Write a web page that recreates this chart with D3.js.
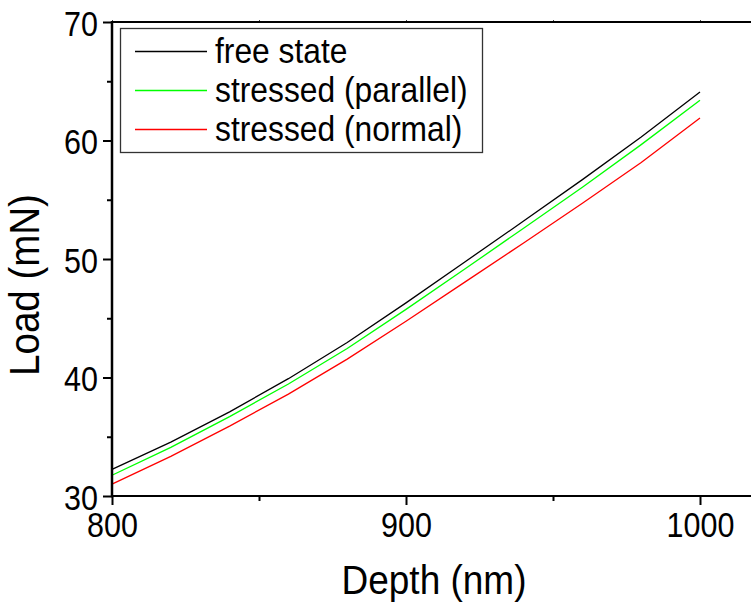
<!DOCTYPE html>
<html>
<head>
<meta charset="utf-8">
<script src="https://cdn.jsdelivr.net/npm/d3@7/dist/d3.min.js"></script>
<style>
  html, body { margin: 0; padding: 0; background: #fff; }
  svg { display: block; font-family: "Liberation Sans", Arial, sans-serif; }
</style>
</head>
<body>
<svg id="chart" width="751" height="605"></svg>
<script>
// ---- data ----
const depth = [800, 820, 840, 860, 880, 900, 920, 940, 960, 980, 1000];
const freeState = [32.25, 34.55, 37.1, 39.9, 42.95, 46.3, 49.75, 53.2, 56.7, 60.3, 64.1];
const stressedParallel = [31.75, 34.1, 36.7, 39.45, 42.45, 45.75, 49.15, 52.6, 56.05, 59.65, 63.4];
const stressedNormal = [31.0, 33.35, 35.9, 38.6, 41.55, 44.75, 48.05, 51.35, 54.7, 58.15, 61.9];
const seriesNames = ["free state", "stressed (parallel)", "stressed (normal)"];
const seriesColors = ["#000000", "#00ff00", "#ff0000"];
const xMajorTicks = [800, 900, 1000];
const xMinorTicks = [850, 950, 1050];
const yMajorTicks = [30, 40, 50, 60, 70];
const yMinorTicks = [35, 45, 55, 65];
const xLabel = "Depth (nm)";
const yLabel = "Load (mN)";

const series = [freeState, stressedParallel, stressedNormal];

const svg = d3.select("#chart");
const mLeft = 112, mTop = 22, mBottom = 496, mRight = 800;

const x = d3.scaleLinear().domain([800, 1000]).range([mLeft, 700]);
const y = d3.scaleLinear().domain([30, 70]).range([mBottom, mTop]);
const xMax = x.invert(mRight);
const SY = 1.18; // vertical stretch of the reference's lettering

// curves
const line = d3.line().x((d, i) => x(depth[i])).y(d => y(d));
series.forEach((s, k) => {
  svg.append("path").datum(s)
    .attr("d", line)
    .attr("fill", "none")
    .attr("stroke", seriesColors[k])
    .attr("stroke-width", 1.3);
});

const axisW = 2.5;
// bottom axis
const xAxis = d3.axisBottom(x).tickValues(xMajorTicks).tickSize(9).tickSizeOuter(0).tickFormat(d3.format("d"));
const gx = svg.append("g").attr("transform", `translate(0,${mBottom})`).call(xAxis);
gx.select(".domain").remove();
gx.selectAll(".tick line").attr("stroke-width", 2);
gx.selectAll(".tick text").attr("font-size", 30.5).attr("y", 0).attr("dy", 0)
  .attr("transform", `translate(0,41) scale(1,${SY})`)
  .attr("fill", "#000").attr("font-family", "Liberation Sans, Arial, sans-serif");
const xMinorAxis = d3.axisBottom(x).tickValues(xMinorTicks).tickSize(5).tickFormat("");
const gxm = svg.append("g").attr("transform", `translate(0,${mBottom})`).call(xMinorAxis);
gxm.select(".domain").remove();
gxm.selectAll(".tick line").attr("stroke-width", 2);

// left axis
const yAxis = d3.axisLeft(y).tickValues(yMajorTicks).tickSize(9).tickSizeOuter(0).tickFormat(d3.format("d"));
const gy = svg.append("g").attr("transform", `translate(${mLeft},0)`).call(yAxis);
gy.select(".domain").remove();
gy.selectAll(".tick line").attr("stroke-width", 2);
gy.selectAll(".tick text").attr("font-size", 30.5).attr("x", 0).attr("dy", 0).attr("y", 0)
  .attr("transform", `translate(-14,13) scale(1,${SY})`)
  .attr("fill", "#000").attr("font-family", "Liberation Sans, Arial, sans-serif");
const yMinorAxis = d3.axisLeft(y).tickValues(yMinorTicks).tickSize(5).tickFormat("");
const gym = svg.append("g").attr("transform", `translate(${mLeft},0)`).call(yMinorAxis);
gym.select(".domain").remove();
gym.selectAll(".tick line").attr("stroke-width", 2);

// top axis small ticks
const xTop = d3.axisTop(x).tickValues(xMajorTicks.concat(xMinorTicks)).tickSize(2).tickFormat("");
const gt = svg.append("g").attr("transform", `translate(0,${mTop})`).call(xTop);
gt.select(".domain").remove();
gt.selectAll(".tick line").attr("stroke-width", 1).attr("stroke", "#444");

// axis lines
svg.append("line").attr("x1", mLeft).attr("x2", mLeft).attr("y1", mTop - 1).attr("y2", mBottom + 1.2)
  .attr("stroke", "#000").attr("stroke-width", axisW);
svg.append("line").attr("x1", mLeft - 1).attr("x2", x(xMax)).attr("y1", mBottom).attr("y2", mBottom)
  .attr("stroke", "#000").attr("stroke-width", 2.2);
svg.append("line").attr("x1", mLeft - 1).attr("x2", x(xMax)).attr("y1", mTop).attr("y2", mTop)
  .attr("stroke", "#000").attr("stroke-width", 2.2);

// axis titles
svg.append("text").attr("transform", `translate(434,594) scale(1,1.1)`).attr("text-anchor", "middle")
  .attr("font-size", 37).text(xLabel);
svg.append("text").attr("transform", `translate(39,285) rotate(-90) scale(1,1.1)`).attr("text-anchor", "middle")
  .attr("font-size", 38.5).text(yLabel);

// legend
const lg = svg.append("g");
lg.append("rect").attr("x", 120.5).attr("y", 28.5).attr("width", 362).attr("height", 124)
  .attr("fill", "#fff").attr("stroke", "#333").attr("stroke-width", 1.3);
const rowY = [51.5, 90.5, 129.5];
seriesNames.forEach((name, k) => {
  lg.append("line").attr("x1", 135).attr("x2", 207).attr("y1", rowY[k]).attr("y2", rowY[k])
    .attr("stroke", seriesColors[k]).attr("stroke-width", 1.3);
  lg.append("text").attr("transform", `translate(215,${rowY[k] + 11}) scale(1,1.12)`)
    .attr("font-size", 31.8).text(name);
});
</script>
</body>
</html>
